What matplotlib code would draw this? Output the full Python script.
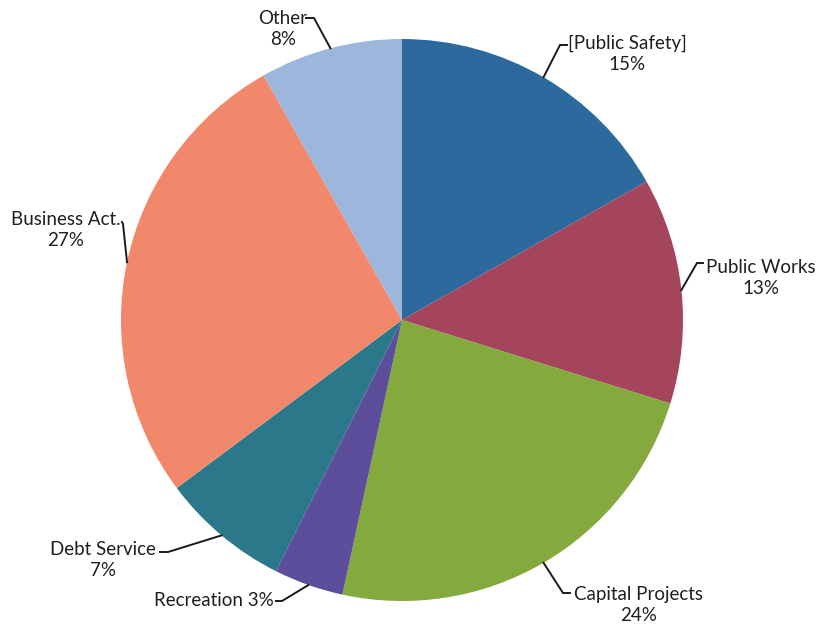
import numpy as np
import matplotlib
matplotlib.use('Agg')
import matplotlib.pyplot as plt

# 資料
categories = ['Public Safety', 'Public Works', 'Capital Projects', 'Recreation',
              'Debt Service', 'Business Act.', 'Other']
shares = [16.8, 13.0, 23.6, 4.0, 7.4, 27.0, 8.2]  # 由扇形角度量出
label_texts = ['[Public Safety]\n15%', 'Public Works\n13%', 'Capital Projects\n24%',
               'Recreation 3%', 'Debt Service\n7%', 'Business Act.\n27%', 'Other\n8%']
colors = ['#2c6a9d', '#a5445d', '#84a93d', '#5d4e9b', '#2a7889', '#f2886b', '#9cb6dc']

# 版面 (像素座標, 之後換算)
W, H = 818, 628
cx, cy, R = 402, 320, 281
elbows = [(560, 45), (697, 263), (563, 593), (282, 601), (168, 552), (123, 224), (314, 18)]
ends = [(567, 45), (703, 263), (570, 593), (276, 601), (160, 552), (122, 222), (306, 18)]
text_pos = [(627, 54), (761, 278), (639, 605), (274, 600), (103, 560), (66, 230), (283, 29)]
text_ha = ['center', 'center', 'center', 'right', 'center', 'center', 'center']

def px(p):  # 像素 -> 資料座標
    return ((p[0] - cx) / R, (cy - p[1]) / R)

fig = plt.figure(figsize=(W / 100, H / 100), dpi=100)
ax = fig.add_axes([0, 0, 1, 1])
wedges, _ = ax.pie(shares, colors=colors, startangle=90, counterclock=False,
                   radius=1.0, wedgeprops={'linewidth': 0})
ax.set_xlim(-cx / R, (W - cx) / R)
ax.set_ylim((cy - H) / R, cy / R)
ax.set_aspect('equal')
ax.axis('off')

for i, w in enumerate(wedges):
    mid = np.deg2rad((w.theta1 + w.theta2) / 2)
    start = (np.cos(mid), np.sin(mid))
    e = px(elbows[i])
    f = px(ends[i])
    ax.plot([start[0], e[0], f[0]], [start[1], e[1], f[1]], color='#1a1a1a', lw=1.4,
            solid_joinstyle='miter')
    t = px(text_pos[i])
    ax.text(t[0], t[1], label_texts[i], ha=text_ha[i], va='center', fontsize=13.5,
            family='Lato', color='#1f1f1f', linespacing=1.25, multialignment='center')

fig.savefig('out.png', dpi=100, facecolor='white')
